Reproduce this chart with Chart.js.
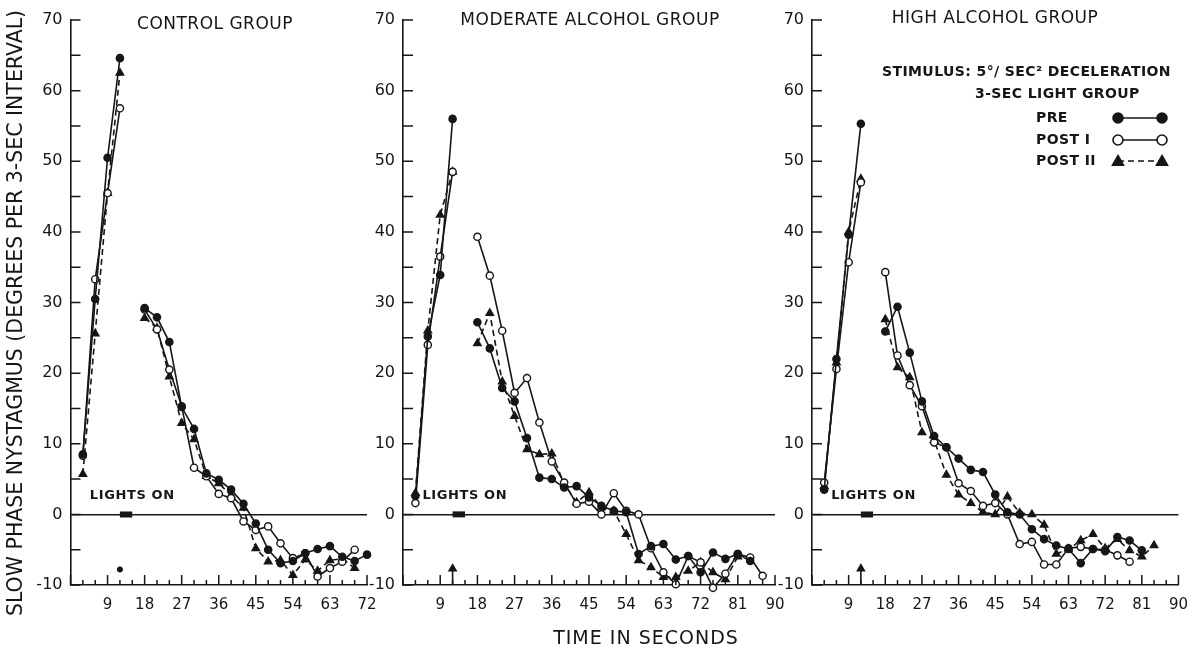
<!DOCTYPE html>
<html>
<head>
<meta charset="utf-8">
<title>Slow phase nystagmus - 3-sec light group</title>
<script src="https://cdn.jsdelivr.net/npm/chart.js@4.4.1/dist/chart.umd.min.js"></script>
<style>
  html, body { margin: 0; padding: 0; background: #fff; }
  #wrap { position: relative; width: 1199px; height: 650px; overflow: hidden; background: #fff; }
  #wrap canvas { position: absolute; left: 0; top: 0; }
</style>
</head>
<body>
<div id="wrap">
  <canvas id="chart-control" width="1199" height="650"></canvas>
  <canvas id="chart-moderate" width="1199" height="650"></canvas>
  <canvas id="chart-high" width="1199" height="650"></canvas>
</div>
<script>
const INK = '#161616';
const FONT = "'DejaVu Sans', 'Liberation Sans', sans-serif";

// time axis (seconds): points during the rise, and after the light period
const riseSeconds = [3, 6, 9, 12];
const decaySeconds = [18, 21, 24, 27, 30, 33, 36, 39, 42, 45, 48, 51, 54, 57, 60, 63, 66, 69, 72, 75, 78, 81, 84, 87];
const lightsOn = [12, 15];
const arrowAt = 12;

// control group
const controlPreRise = [8.5, 30.5, 50.5, 64.6];
const controlPostIRise = [8.3, 33.3, 45.5, 57.5];
const controlPostIIRise = [5.7, 25.6, 45.5, 62.5];
const controlPreDecay = [29.2, 27.9, 24.4, 15.2, 12.1, 5.8, 4.9, 3.5, 1.5, -1.3, -5.0, -6.9, -6.6, -5.5, -4.9, -4.5, -6.0, -6.6, -5.7];
const controlPostIDecay = [29.0, 26.2, 20.5, 15.3, 6.6, 5.4, 2.9, 2.3, -1.0, -2.2, -1.7, -4.1, -6.2, -5.5, -8.8, -7.6, -6.7, -5.0];
const controlPostIIDecay = [27.8, 26.4, 19.5, 12.9, 10.6, 5.4, 4.4, 2.7, 0.9, -4.8, -6.7, -6.5, -8.6, -6.4, -8.0, -6.5, -6.3, -7.6];

// moderate alcohol group
const moderatePreRise = [2.6, 25.2, 33.9, 56.0];
const moderatePostIRise = [1.6, 24.0, 36.5, 48.5];
const moderatePostIIRise = [3.0, 26.0, 42.4, 48.5];
const moderatePreDecay = [27.2, 23.5, 17.9, 16.0, 10.8, 5.2, 5.0, 3.8, 4.0, 2.4, 1.2, 0.5, 0.3, -5.6, -4.5, -4.2, -6.4, -5.9, -8.2, -5.4, -6.3, -5.6, -6.6];
const moderatePostIDecay = [39.3, 33.8, 26.0, 17.2, 19.3, 13.0, 7.5, 4.5, 1.5, 1.8, 0.0, 3.0, 0.5, 0.0, -4.8, -8.2, -9.9, -5.9, -6.8, -10.4, -8.4, -5.6, -6.1, -8.7];
const moderatePostIIDecay = [24.2, 28.5, 18.8, 13.9, 9.2, 8.5, 8.6, 4.3, 1.7, 3.1, 1.0, 0.5, -2.8, -6.5, -7.5, -8.9, -8.9, -8.0, -6.8, -8.2, -9.2, -6.0];

// high alcohol group
const highPreRise = [3.5, 22.0, 39.6, 55.3];
const highPostIRise = [4.5, 20.6, 35.7, 47.0];
const highPostIIRise = [4.0, 21.5, 40.0, 47.5];
const highPreDecay = [25.9, 29.4, 22.9, 16.0, 11.1, 9.5, 7.9, 6.3, 6.0, 2.8, 0.3, 0.0, -2.1, -3.5, -4.4, -4.9, -6.9, -4.9, -5.2, -3.2, -3.7, -5.1];
const highPostIDecay = [34.3, 22.5, 18.3, 15.3, 10.2, 9.5, 4.4, 3.3, 1.2, 1.6, 0.0, -4.2, -3.9, -7.1, -7.1, -4.8, -4.6, -4.9, -5.0, -5.8, -6.7];
const highPostIIDecay = [27.6, 20.8, 19.4, 11.6, 10.5, 5.6, 2.8, 1.6, 0.3, 0.0, 2.5, 0.2, 0.0, -1.5, -5.6, -4.9, -3.7, -2.8, -4.8, -3.5, -5.1, -6.0, -4.4];

const seriesStyle = {
    pre: {pointStyle: 'circle', fill: INK, radius: 3.6, dash: []},
    postI: {pointStyle: 'circle', fill: '#fff', radius: 3.6, dash: []},
    postII: {pointStyle: 'triangle', fill: INK, radius: 4.3, dash: [6, 4]},
};

function toPoints(rise, decay) {
    const pts = rise.map((v, i) => ({x: riseSeconds[i], y: v}));
    pts.push({x: lightsOn[1], y: null}); // break in the curve while the light is on
    decay.forEach((v, i) => pts.push({x: decaySeconds[i], y: v}));
    return pts;
}

function seriesDataset(label, pts, style) {
    return {
        label: label,
        data: pts,
        borderColor: INK,
        borderWidth: 1.6,
        borderDash: style.dash,
        pointStyle: style.pointStyle,
        pointRadius: style.radius,
        pointBackgroundColor: style.fill,
        pointBorderColor: INK,
        pointBorderWidth: 1.4,
        tension: 0,
        fill: false,
        clip: false
    };
}

function markerDatasets(withArrow) {
    const sets = [{
        label: 'lights on',
        data: [{x: lightsOn[0], y: 0}, {x: lightsOn[1], y: 0}],
        borderColor: INK,
        borderWidth: 6,
        borderCapStyle: 'butt',
        pointRadius: 0
    }];
    if (withArrow) {
        sets.push({
            label: 'arrow',
            data: [{x: arrowAt, y: -10}, {x: arrowAt, y: -7.7}],
            borderColor: INK,
            borderWidth: 1.6,
            pointStyle: 'triangle',
            pointRadius: [0, 4],
            pointBackgroundColor: INK,
            pointBorderColor: INK,
            clip: false
        });
    } else {
        sets.push({
            label: 'arrow',
            data: [{x: arrowAt, y: -7.8}],
            showLine: false,
            pointRadius: 2.6,
            pointBackgroundColor: INK,
            pointBorderColor: INK
        });
    }
    return sets;
}

function drawMarker(ctx, kind, x, y) {
    const st = seriesStyle[kind];
    ctx.save();
    ctx.beginPath();
    if (st.pointStyle === 'triangle') {
        const r = 5.5;
        ctx.moveTo(x, y - r);
        ctx.lineTo(x + r, y + r * 0.75);
        ctx.lineTo(x - r, y + r * 0.75);
        ctx.closePath();
    } else {
        ctx.arc(x, y, 5, 0, Math.PI * 2);
    }
    ctx.fillStyle = st.fill;
    ctx.fill();
    ctx.lineWidth = 1.6;
    ctx.setLineDash([]);
    ctx.stroke();
    ctx.restore();
}

// ticks point into the plot, as in the original figure
const inwardTicks = {
    id: 'inwardTicks',
    afterDatasetsDraw(chart) {
        const {ctx, chartArea, scales} = chart;
        ctx.save();
        ctx.strokeStyle = INK;
        ctx.lineWidth = 1.5;
        ctx.setLineDash([]);
        ctx.beginPath();
        scales.x.ticks.forEach(t => {
            const px = scales.x.getPixelForValue(t.value);
            const len = t.value % 9 === 0 ? 10 : 5;
            ctx.moveTo(px, chartArea.bottom);
            ctx.lineTo(px, chartArea.bottom - len);
        });
        scales.y.ticks.forEach(t => {
            const py = scales.y.getPixelForValue(t.value);
            ctx.moveTo(chartArea.left, py);
            ctx.lineTo(chartArea.left + 10, py);
        });
        ctx.stroke();
        ctx.restore();
    }
};

function notesPlugin(title, titleX, titleY, extra) {
    return {
        id: 'notes',
        afterDraw(chart) {
            const ctx = chart.ctx;
            const sx = chart.scales.x, sy = chart.scales.y;
            ctx.save();
            ctx.fillStyle = INK;
            ctx.strokeStyle = INK;
            ctx.textBaseline = 'middle';
            if ('letterSpacing' in ctx) ctx.letterSpacing = '0.5px';
            ctx.font = '17px ' + FONT;
            ctx.textAlign = 'center';
            ctx.fillText(title, titleX, titleY);

            ctx.font = 'bold 13px ' + FONT;
            ctx.textAlign = 'left';
            if ('letterSpacing' in ctx) ctx.letterSpacing = '0.6px';
            ctx.fillText('LIGHTS ON', sx.getPixelForValue(4.7), sy.getPixelForValue(2.6));
            if (extra) extra(ctx);
            ctx.restore();
        }
    };
}

function drawYTitle(ctx) {
    ctx.save();
    ctx.translate(17, 313);
    ctx.rotate(-Math.PI / 2);
    ctx.font = '20.5px ' + FONT;
    ctx.textAlign = 'center';
    ctx.textBaseline = 'middle';
    if ('letterSpacing' in ctx) ctx.letterSpacing = '0px';
    ctx.fillText('SLOW PHASE NYSTAGMUS (DEGREES PER 3-SEC INTERVAL)', 0, 0);
    ctx.restore();
}

function drawLegend(ctx) {
    ctx.font = 'bold 14px ' + FONT;
    ctx.textAlign = 'left';
    ctx.textBaseline = 'middle';
    if ('letterSpacing' in ctx) ctx.letterSpacing = '0.4px';
    ctx.fillText('STIMULUS: 5°/ SEC² DECELERATION', 882, 72);
    ctx.fillText('3-SEC LIGHT GROUP', 975, 94);
    const rows = [['PRE', 118, 'pre'], ['POST I', 140, 'postI'], ['POST II', 161, 'postII']];
    rows.forEach(r => {
        ctx.fillStyle = INK;
        ctx.fillText(r[0], 1036, r[1]);
        ctx.beginPath();
        ctx.strokeStyle = INK;
        ctx.lineWidth = 1.6;
        ctx.setLineDash(seriesStyle[r[2]].dash);
        ctx.moveTo(1118, r[1]);
        ctx.lineTo(1162, r[1]);
        ctx.stroke();
        drawMarker(ctx, r[2], 1118, r[1]);
        drawMarker(ctx, r[2], 1162, r[1]);
    });
}

function drawTimeTitle(ctx) {
    ctx.font = '19px ' + FONT;
    ctx.textAlign = 'center';
    ctx.textBaseline = 'middle';
    if ('letterSpacing' in ctx) ctx.letterSpacing = '1px';
    ctx.fillText('TIME IN SECONDS', 646, 639);
}

function createPanel(canvasId, cfg) {
    const datasets = [
        seriesDataset('PRE', toPoints(cfg.pre[0], cfg.pre[1]), seriesStyle.pre),
        seriesDataset('POST I', toPoints(cfg.postI[0], cfg.postI[1]), seriesStyle.postI),
        seriesDataset('POST II', toPoints(cfg.postII[0], cfg.postII[1]), seriesStyle.postII)
    ].concat(markerDatasets(cfg.arrow));

    return new Chart(document.getElementById(canvasId), {
        type: 'line',
        data: {datasets: datasets},
        options: {
            responsive: false,
            animation: false,
            events: [],
            layout: {padding: cfg.padding},
            plugins: {legend: {display: false}, tooltip: {enabled: false}},
            scales: {
                x: {
                    type: 'linear',
                    min: 0,
                    max: cfg.xMax,
                    afterFit: s => { s.height = 40; },
                    ticks: {
                        stepSize: 3,
                        autoSkip: false,
                        maxRotation: 0,
                        padding: 11,
                        color: INK,
                        font: {family: FONT, size: 15},
                        callback: v => (v > 0 && v % 9 === 0) ? String(v) : ''
                    },
                    grid: {display: false, drawTicks: false},
                    border: {display: true, color: INK, width: 1.6}
                },
                y: {
                    min: -10,
                    max: 70,
                    afterFit: s => { s.width = cfg.yWidth; },
                    ticks: {
                        stepSize: 5,
                        padding: 8,
                        color: INK,
                        font: {family: FONT, size: 16},
                        callback: v => v % 10 === 0 ? String(v) : ''
                    },
                    grid: {
                        drawTicks: false,
                        color: c => (c.tick && c.tick.value === 0) ? INK : 'rgba(0,0,0,0)',
                        lineWidth: 1.5
                    },
                    border: {display: true, color: INK, width: 1.6}
                }
            }
        },
        plugins: [inwardTicks, notesPlugin(cfg.title, cfg.titleX, cfg.titleY, cfg.extra)]
    });
}

createPanel('chart-control', {
    title: 'CONTROL GROUP', titleX: 215, titleY: 25,
    xMax: 72, yWidth: 70,
    padding: {left: 0.5, right: 832, top: 20, bottom: 25},
    pre: [controlPreRise, controlPreDecay],
    postI: [controlPostIRise, controlPostIDecay],
    postII: [controlPostIIRise, controlPostIIDecay],
    arrow: false,
    extra: drawYTitle
});

createPanel('chart-moderate', {
    title: 'MODERATE ALCOHOL GROUP', titleX: 590, titleY: 21,
    xMax: 90, yWidth: 40,
    padding: {left: 363, right: 424, top: 20, bottom: 25},
    pre: [moderatePreRise, moderatePreDecay],
    postI: [moderatePostIRise, moderatePostIDecay],
    postII: [moderatePostIIRise, moderatePostIIDecay],
    arrow: true,
    extra: drawTimeTitle
});

createPanel('chart-high', {
    title: 'HIGH ALCOHOL GROUP', titleX: 995, titleY: 19,
    xMax: 90, yWidth: 40,
    padding: {left: 772, right: 15, top: 20, bottom: 25},
    pre: [highPreRise, highPreDecay],
    postI: [highPostIRise, highPostIDecay],
    postII: [highPostIIRise, highPostIIDecay],
    arrow: true,
    extra: drawLegend
});
</script>
</body>
</html>
